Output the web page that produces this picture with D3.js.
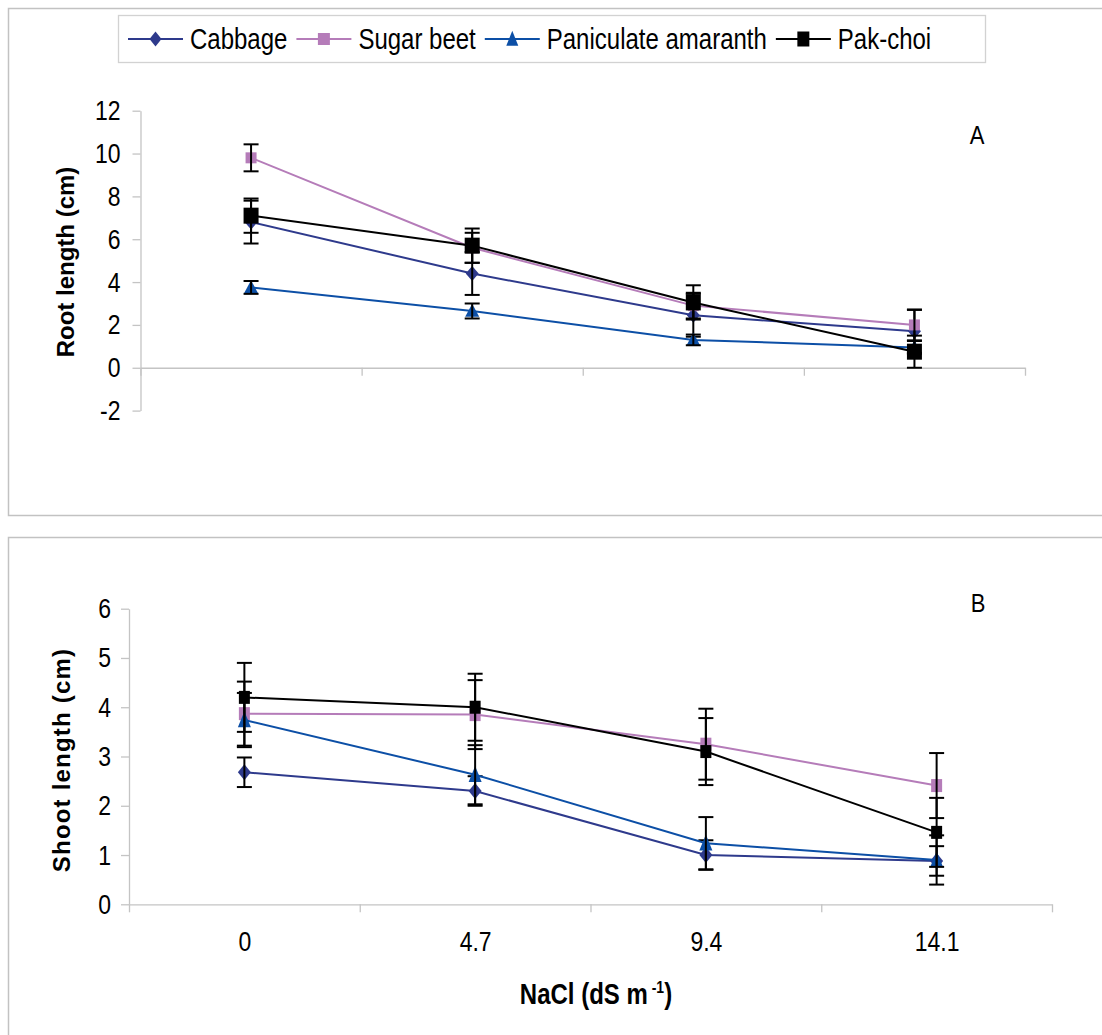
<!DOCTYPE html>
<html>
<head>
<meta charset="utf-8">
<script src="https://cdn.jsdelivr.net/npm/d3@7"></script>
<style>
  body { margin: 0; background: #fff; }
  text { font-family: "Liberation Sans", Arial, sans-serif; fill: #000; }
  .st { transform: scaleY(1.2); transform-box: fill-box; transform-origin: center; }
</style>
</head>
<body>
<div id="chart"></div>
<script>
// ---- data ----
let categories = ["0", "4.7", "9.4", "14.1"];
let seriesNames = ["Cabbage", "Sugar beet", "Paniculate amaranth", "Pak-choi"];

// root length (cm), panel A
let rootCabbage    = [6.8, 4.4, 2.45, 1.7];
let rootSugarBeet  = [9.8, 5.6, 2.9, 2.0];
let rootAmaranth   = [3.75, 2.65, 1.3, 0.95];
let rootPakchoi    = [7.1, 5.7, 3.05, 0.75];
let rootCabbageErr   = [1.0, 1.0, 1.0, 1.0];
let rootSugarBeetErr = [0.63, 0.7, 0.6, 0.72];
let rootAmaranthErr  = [0.3, 0.35, 0.25, 0.3];
let rootPakchoiErr   = [0.8, 0.8, 0.8, 0.75];

// shoot length (cm), panel B
let shootCabbage    = [2.68, 2.3, 1.0, 0.88];
let shootSugarBeet  = [3.87, 3.85, 3.25, 2.41];
let shootAmaranth   = [3.74, 2.63, 1.24, 0.9];
let shootPakchoi    = [4.2, 4.0, 3.1, 1.46];
let shootCabbageErr   = [0.3, 0.3, 0.3, 0.3];
let shootSugarBeetErr = [0.65, 0.7, 0.72, 0.66];
let shootAmaranthErr  = [0.55, 0.6, 0.53, 0.5];
let shootPakchoiErr   = [0.7, 0.68, 0.68, 0.7];

let rootTicks = [-2, 0, 2, 4, 6, 8, 10, 12];
let shootTicks = [0, 1, 2, 3, 4, 5, 6];

// ---- styles ----
let colors = ["#2E3A8C", "#B57CB9", "#0C4FA6", "#000000"];
let shapes = ["diamond", "square", "triangle", "square"];

function markerPath(shape, w, h) {
  if (shape === "diamond") return `M0,${-h/2}L${w/2},0L0,${h/2}L${-w/2},0Z`;
  if (shape === "triangle") return `M0,${-h*0.55}L${w/2},${h*0.45}L${-w/2},${h*0.45}Z`;
  return `M${-w/2},${-h/2}h${w}v${h}h${-w}Z`;
}

const W = 1102, H = 1035;
let svg = d3.select("#chart").append("svg")
  .attr("width", W).attr("height", H);
svg.append("rect").attr("width", W).attr("height", H).attr("fill", "#fff");

// panel frames
svg.append("rect").attr("x", 8.5).attr("y", 8.5).attr("width", 1200).attr("height", 507)
  .attr("fill", "none").attr("stroke", "#c2c2c2").attr("stroke-width", 1.5);
svg.append("rect").attr("x", 8.5).attr("y", 537.5).attr("width", 1200).attr("height", 600)
  .attr("fill", "none").attr("stroke", "#c2c2c2").attr("stroke-width", 1.5);

function drawPanel(cfg) {
  let g = svg.append("g");
  let xEdge = d3.scaleLinear().domain([0, categories.length]).range(cfg.xRange);
  let x = d3.scalePoint().domain(categories).range(cfg.xRange).padding(0.5);
  let y = d3.scaleLinear().domain(cfg.yDomain).range(cfg.yRange);

  /* ------------------ axes ------------------ */
  let yAxis = g.append("g")
    .attr("transform", `translate(${cfg.xRange[0]},0)`)
    .call(d3.axisLeft(y).tickValues(cfg.ticks).tickSize(8).tickSizeOuter(0)
      .tickPadding(cfg.tickPad).tickFormat(d => String(d)));
  let xAxis = g.append("g")
    .attr("transform", `translate(0,${y(0)})`)
    .call(d3.axisBottom(xEdge).tickValues(d3.range(categories.length + 1)).tickSize(8)
      .tickSizeOuter(0).tickFormat(""));
  [yAxis, xAxis].forEach(a => {
    a.selectAll("path, line").attr("stroke", "#c4c4c4").attr("stroke-width", 1.3);
    a.selectAll("text").attr("class", "st").style("font-size", "23px").style("fill", "#000");
  });

  if (cfg.showLabels) {
    let lab = g.append("g")
      .attr("transform", `translate(0,${y(0) + 29})`)
      .call(d3.axisBottom(x).tickSize(0).tickPadding(0));
    lab.select(".domain").remove();
    lab.selectAll("text").attr("class", "st").attr("dy", "0.71em").style("font-size", "23px");
  }

  /* ------------------ series ------------------ */
  let line = d3.line().x((d, i) => x(categories[i])).y(d => y(d));
  cfg.means.forEach((vals, s) => {
    g.append("path").datum(vals)
      .attr("d", line).attr("fill", "none")
      .attr("stroke", colors[s]).attr("stroke-width", 2);

    let sz = cfg.sizes[s];
    g.selectAll(null).data(vals).enter().append("path")
      .attr("transform", (d, i) => `translate(${x(categories[i])},${y(d)})`)
      .attr("d", markerPath(shapes[s], sz[0], sz[1]))
      .attr("fill", colors[s]);

    // error bars
    let eb = g.selectAll(null).data(vals).enter().append("g")
      .attr("stroke", "#000").attr("stroke-width", 2);
    eb.append("line")
      .attr("x1", (d, i) => x(categories[i])).attr("x2", (d, i) => x(categories[i]))
      .attr("y1", (d, i) => y(d + cfg.errs[s][i])).attr("y2", (d, i) => y(d - cfg.errs[s][i]));
    [1, -1].forEach(sign => {
      eb.append("line")
        .attr("x1", (d, i) => x(categories[i]) - 7.5).attr("x2", (d, i) => x(categories[i]) + 7.5)
        .attr("y1", (d, i) => y(d + sign * cfg.errs[s][i]))
        .attr("y2", (d, i) => y(d + sign * cfg.errs[s][i]));
    });
  });

  g.append("text").attr("class", "st")
    .attr("x", cfg.letter[1]).attr("y", cfg.letter[2])
    .attr("text-anchor", "middle").style("font-size", "22px").text(cfg.letter[0]);

  g.append("text")
    .attr("transform", `translate(${cfg.titlePos[0]},${cfg.titlePos[1]}) rotate(-90)`)
    .attr("text-anchor", "middle").attr("dy", "0.35em")
    .style("font-size", "24px").style("font-weight", "bold")
    .style("letter-spacing", cfg.titleSpacing)
    .text(cfg.title);
}

drawPanel({
  xRange: [140.5, 1025], yDomain: [-2, 12], yRange: [410.6, 110.7], ticks: rootTicks, tickPad: 12,
  means: [rootCabbage, rootSugarBeet, rootAmaranth, rootPakchoi],
  errs: [rootCabbageErr, rootSugarBeetErr, rootAmaranthErr, rootPakchoiErr],
  sizes: [[13, 15], [11, 11], [14, 13], [15, 16]],
  showLabels: false, letter: ["A", 977, 142],
  title: "Root length (cm)", titlePos: [66, 262], titleSpacing: "0px"
});

drawPanel({
  xRange: [129, 1052], yDomain: [0, 6], yRange: [904.3, 608.7], ticks: shootTicks, tickPad: 10,
  means: [shootCabbage, shootSugarBeet, shootAmaranth, shootPakchoi],
  errs: [shootCabbageErr, shootSugarBeetErr, shootAmaranthErr, shootPakchoiErr],
  sizes: [[13, 16], [11, 13], [13, 16], [11, 13]],
  showLabels: true, letter: ["B", 978, 610],
  title: "Shoot length (cm)", titlePos: [62, 760], titleSpacing: "1.2px"
});

// x axis title
let xt = svg.append("text").attr("class", "st")
  .attr("x", 596).attr("y", 1002).attr("text-anchor", "middle")
  .style("font-size", "24px").style("font-weight", "bold");
xt.append("tspan").text("NaCl (dS m");
xt.append("tspan").attr("dy", -9).style("font-size", "14px").text(" -1");
xt.append("tspan").attr("dy", 9).text(")");

/* ------------------ legend ------------------ */
let legend = svg.append("g");
legend.append("rect").attr("x", 118.5).attr("y", 15.5).attr("width", 867).attr("height", 47)
  .attr("fill", "#fff").attr("stroke", "#d2d2d2").attr("stroke-width", 1.3);
let lx = 128;
seriesNames.forEach((name, s) => {
  let cy = 39;
  legend.append("line").attr("x1", lx).attr("x2", lx + 55).attr("y1", cy).attr("y2", cy)
    .attr("stroke", colors[s]).attr("stroke-width", 2);
  legend.append("path").attr("transform", `translate(${lx + 27.5},${cy})`)
    .attr("d", markerPath(shapes[s], 12, s === 1 ? 12 : 15))
    .attr("fill", colors[s]);
  let t = legend.append("text").attr("class", "st")
    .attr("x", lx + 62).attr("y", cy + 8).style("font-size", "24px").text(name);
  lx = lx + 62 + t.node().getComputedTextLength() + 9;
});
</script>
</body>
</html>
